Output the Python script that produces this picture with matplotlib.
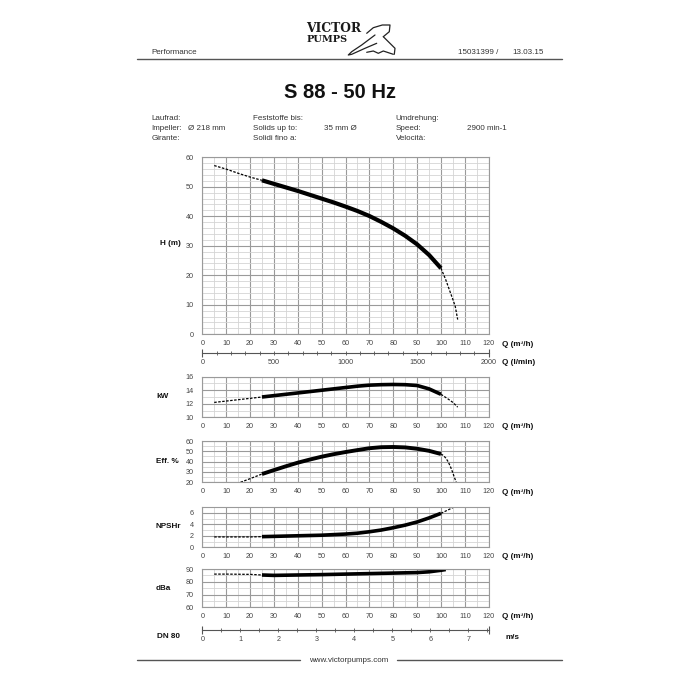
import numpy as np
import matplotlib
matplotlib.use("Agg")
import matplotlib.pyplot as plt
from matplotlib.ticker import MultipleLocator
from matplotlib.lines import Line2D

plt.rcParams['font.family'] = ['Liberation Sans', 'DejaVu Sans']

# ---------------- data ----------------
H_q = [5, 10, 15, 20, 25, 30, 35, 40, 45, 50, 55, 60, 65, 70, 75, 80, 85, 90, 95, 100, 102, 104, 105, 106, 107]
H_v = [57.2, 56.0, 54.6, 53.3, 52.2, 51.0, 49.8, 48.6, 47.3, 46.0, 44.7, 43.3, 41.8, 40.1, 38.1, 35.9, 33.4,
       30.5, 26.9, 22.4, 18.5, 14.0, 11.8, 9.4, 5.0]

kW_q = [5, 10, 15, 20, 25, 30, 35, 40, 45, 50, 55, 60, 65, 70, 75, 80, 85, 90, 95, 100, 103, 105, 107]
kW_v = [12.2, 12.4, 12.6, 12.8, 13.0, 13.2, 13.4, 13.6, 13.8, 14.0, 14.2, 14.4, 14.6, 14.75, 14.82, 14.85,
        14.82, 14.7, 14.2, 13.4, 12.7, 12.2, 11.5]

eff_q = [16, 20, 25, 30, 35, 40, 45, 50, 55, 60, 65, 70, 75, 80, 85, 90, 95, 100, 101, 102, 103, 104, 105, 105.5, 106, 106.4]
eff_v = [20, 23.5, 28, 31.8, 35.5, 39, 42, 44.8, 47.2, 49.3, 51.2, 53, 54, 54.2, 53.8, 52.5, 50.5, 47.4,
         46, 43.5, 40, 35, 29, 25.5, 22.5, 20]

npsh_q = [5, 10, 15, 20, 25, 30, 35, 40, 45, 50, 55, 60, 65, 70, 75, 80, 85, 90, 95, 100, 103, 105]
npsh_v = [1.8, 1.8, 1.8, 1.8, 1.85, 1.9, 1.95, 2.0, 2.05, 2.1, 2.2, 2.3, 2.45, 2.7, 3.0, 3.4, 3.85, 4.4,
          5.1, 5.9, 6.5, 6.9]

dba_q = [5, 10, 15, 20, 25, 30, 40, 50, 60, 70, 80, 90, 95, 100, 102]
dba_v = [86, 86, 85.9, 85.8, 85.3, 85.0, 85.3, 85.6, 86.0, 86.4, 86.8, 87.2, 87.8, 89.0, 89.6]

q_ticks = list(range(0, 121, 10))
lmin_ticks = [0, 500, 1000, 1500, 2000]
ms_ticks = [0, 1, 2, 3, 4, 5, 6, 7]

SOLID_FROM = 25
SOLID_TO = 100

# ---------------- figure ----------------
W = H = 700
fig = plt.figure(figsize=(7, 7), dpi=100)
fig.patch.set_facecolor('white')


def rect(x0, y0, x1, y1):
    return [x0 / W, 1 - y1 / H, (x1 - x0) / W, (y1 - y0) / H]


def ftext(x, y, s, **kw):
    kw.setdefault('va', 'center')
    kw.setdefault('ha', 'left')
    kw.setdefault('fontsize', 5.8)
    kw.setdefault('color', '#333333')
    fig.text(x / W, 1 - y / H, s, **kw)


def fpoly(pts, lw=0.9, color='#222222'):
    xs = [p[0] / W for p in pts]
    ys = [1 - p[1] / H for p in pts]
    fig.add_artist(Line2D(xs, ys, lw=lw, color=color, transform=fig.transFigure,
                          solid_joinstyle='round', solid_capstyle='round'))


def fline(x0, x1, y, lw=1.0, color='#555555'):
    fpoly([(x0, y), (x1, y)], lw=lw, color=color)


XL, XR = 202.3, 488.7
GRID_MAJ = '#9a9a9a'
GRID_MIN = '#d4d4d4'
TICK_FS = 5.2
LBL_FS = 5.9


def panel(y0, y1, ylim, ymaj, ymin):
    ax = fig.add_axes(rect(XL, y0, XR, y1))
    ax.set_xlim(0, 120)
    ax.set_ylim(*ylim)
    ax.set_xticks(q_ticks)
    ax.xaxis.set_minor_locator(MultipleLocator(5))
    ax.yaxis.set_major_locator(MultipleLocator(ymaj))
    ax.yaxis.set_minor_locator(MultipleLocator(ymin))
    ax.grid(which='major', color=GRID_MAJ, lw=0.8)
    ax.grid(which='minor', color=GRID_MIN, lw=0.6)
    ax.set_axisbelow(True)
    for s in ax.spines.values():
        s.set_color('#9a9a9a')
        s.set_linewidth(0.8)
    ax.tick_params(which='both', length=0, labelsize=TICK_FS, labelcolor='#444444')
    ax.tick_params(axis='x', pad=4.2)
    ax.tick_params(axis='y', pad=6.2)
    return ax


def draw_curve(ax, q, v, lw, solid_to=SOLID_TO, right_dashed=True):
    q = np.asarray(q, float)
    v = np.asarray(v, float)
    m1 = q <= SOLID_FROM
    m2 = (q >= SOLID_FROM) & (q <= solid_to)
    m3 = q >= solid_to
    dash = dict(color='black', lw=0.9, linestyle=(0, (2.0, 1.2)), solid_capstyle='butt')
    ax.plot(q[m1], v[m1], **dash)
    ax.plot(q[m2], v[m2], color='black', lw=lw, solid_capstyle='butt', solid_joinstyle='round')
    if right_dashed and m3.sum() > 1:
        ax.plot(q[m3], v[m3], **dash)


axH = panel(157.3, 334.3, (0, 60), 10, 2)
draw_curve(axH, H_q, H_v, 3.0)
axK = panel(376.7, 417.3, (10, 16), 2, 1)
draw_curve(axK, kW_q, kW_v, 2.6)
axE = panel(441.0, 482.3, (20, 60), 10, 5)
draw_curve(axE, eff_q, eff_v, 2.8)
axN = panel(507.0, 547.3, (0, 7), 2, 1)
draw_curve(axN, npsh_q, npsh_v, 2.6)
axD = panel(569.0, 607.3, (60, 90), 10, 5)
draw_curve(axD, dba_q, dba_v, 2.6, solid_to=102, right_dashed=False)


def scale_axis(y, xmax, ticks, minor):
    ax = fig.add_axes(rect(XL, y, XR, y + 0.2))
    ax.set_xlim(0, xmax)
    ax.set_ylim(0, 1)
    ax.patch.set_alpha(0)
    for k in ('top', 'left', 'right'):
        ax.spines[k].set_visible(False)
    ax.spines['bottom'].set_color('#555555')
    ax.spines['bottom'].set_linewidth(0.8)
    ax.set_yticks([])
    ax.set_xticks(ticks)
    ax.xaxis.set_minor_locator(MultipleLocator(minor))
    ax.tick_params(which='both', direction='inout', length=2.5, width=0.6, color='#555555',
                   labelsize=TICK_FS, labelcolor='#444444', pad=3.3)
    ax.plot([0, xmax], [0, 0], linestyle='none', marker='|', markersize=6, mew=0.8,
            color='#555555', clip_on=False)
    return ax


axL = scale_axis(352.7, 2000, lmin_ticks, 100)
axV = scale_axis(629.3, (XR - XL) / 38.0, ms_ticks, 0.5)

# ---------------- texts ----------------
bold = dict(fontweight='bold', fontsize=LBL_FS, color='#111111')
ftext(160.5, 243.5, 'H (m)', **bold)
ftext(156, 396.7, 'kW', **bold)
ftext(156, 461.7, 'Eff. %', **bold)
ftext(155, 526.7, 'NPSHr', **bold)
ftext(156, 589.0, 'dBa', **bold)
ftext(157, 636.7, 'DN 80', **bold)
ftext(505, 637.5, 'm/s', **bold)

for y in (344.0, 427.0, 492.0, 557.0, 617.0):
    ftext(502, y, 'Q (m³/h)', **bold)
ftext(502, 362.0, 'Q (l/min)', **bold)

# header
ftext(151.5, 52.3, 'Performance', fontsize=5.8)
ftext(458.3, 52.3, '15031399 /', fontsize=5.8)
ftext(512.3, 52.3, '13.03.15', fontsize=5.8)
fline(136.7, 562.0, 59.3, lw=1.0, color='#555555')

# logo
ftext(306.5, 28.3, 'VICTOR', fontsize=8.8, fontweight='bold', family=['DejaVu Serif'], color='#1a1a1a')
ftext(306.5, 39.0, 'PUMPS', fontsize=7.0, fontweight='bold', family=['DejaVu Serif'], color='#1a1a1a')
fpoly([(366.7, 33.3), (373.3, 27.7), (382.3, 25.0), (390.0, 25.0), (389.3, 31.7), (383.3, 36.7)])
fpoly([(375.0, 35.0), (361.7, 45.0), (351.7, 51.7), (348.3, 55.0), (351.7, 54.3), (365.0, 48.3),
       (376.7, 43.3)])
fpoly([(383.3, 36.7), (395.0, 48.3), (394.3, 54.3)])
fpoly([(366.7, 52.3), (373.3, 51.0), (378.3, 53.3), (383.3, 51.0), (393.3, 54.3)])

# title
ftext(340, 92, 'S 88 - 50 Hz', ha='center', fontsize=14.5, fontweight='bold', color='#111111')

# info block
info = [
    (151.5, 118.3, 'Laufrad:'), (151.5, 128.5, 'Impeller:'), (151.5, 139.0, 'Girante:'),
    (188.0, 128.5, 'Ø 218 mm'),
    (252.7, 118.3, 'Feststoffe bis:'), (252.7, 128.5, 'Solids up to:'), (252.7, 139.0, 'Solidi fino a:'),
    (324.0, 128.5, '35 mm Ø'),
    (395.7, 118.3, 'Umdrehung:'), (395.7, 128.5, 'Speed:'), (395.7, 139.0, 'Velocità:'),
    (467.0, 128.5, '2900 min-1'),
]
for x, y, s in info:
    ftext(x, y, s, fontsize=5.8)

# footer
fline(136.7, 300.0, 660.3, lw=1.0)
fline(396.7, 562.0, 660.3, lw=1.0)
ftext(348.5, 660.3, 'www.victorpumps.com', ha='center', fontsize=5.8)

fig.savefig('out.png', dpi=100, facecolor='white')
